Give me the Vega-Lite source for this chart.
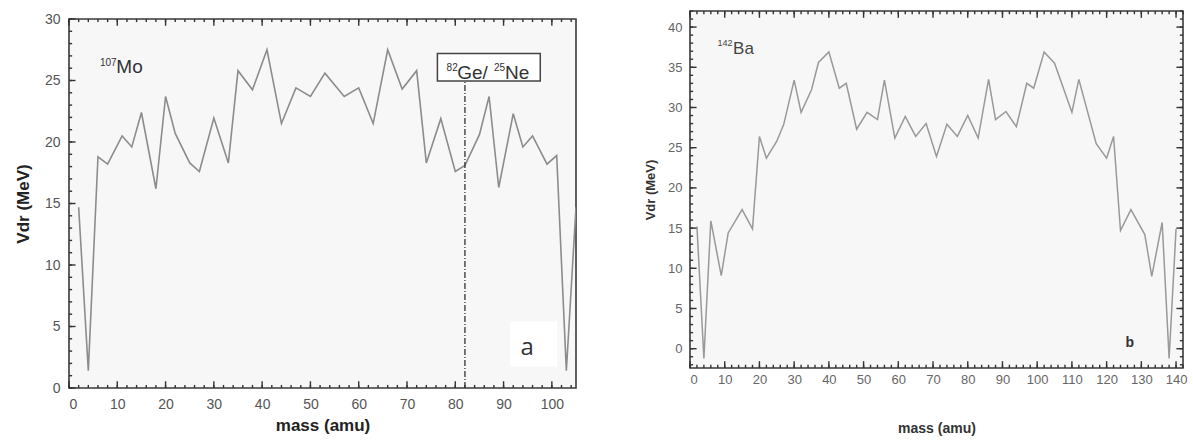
{
  "$schema": "https://vega.github.io/schema/vega-lite/v6.json",
  "background": "white",
  "padding": {"left": 13, "top": 5, "right": 0, "bottom": 0},
  "autosize": {"type": "pad"},
  "config": {
    "view": {"fill": "#f7f7f7", "stroke": "#3a3a3a", "strokeWidth": 1.6},
    "axis": {"domain": false, "grid": false, "ticks": false, "tickSize": 0, "labelFont": "Liberation Sans", "titleFont": "Liberation Sans", "labelColor": "#555555", "titleColor": "#222222"},
    "rule": {"color": "#333333", "strokeWidth": 1.4},
    "text": {"font": "Liberation Sans"}
  },
  "hconcat": [
    {
      "spacing": -6,
      "vconcat": [
        {
          "width": 1, "height": 1,
          "view": {"fill": null, "stroke": null},
          "data": {"values": [{}]},
          "mark": {"type": "text", "text": ""},
          "encoding": {}
        },
        {
          "width": 507, "height": 369,
          "resolve": {"axis": {"x": "independent", "y": "independent"}},
          "layer": [
            {
              "data": {"name": "mo"},
              "mark": {"type": "line", "color": "#8c8c8c", "strokeWidth": 1.6, "clip": true},
              "encoding": {
                "x": {"field": "mass", "type": "quantitative", "scale": {"domain": [0, 105], "nice": false, "zero": false},
                  "axis": {"orient": "bottom", "values": [0,10,20,30,40,50,60,70,80,90,100], "labelPadding": 9, "labelFontSize": 14, "title": "mass (amu)", "titleFontSize": 17, "titleFontWeight": "bold", "titlePadding": 6}},
                "y": {"field": "V", "type": "quantitative", "scale": {"domain": [0, 30], "nice": false, "zero": false},
                  "axis": {"orient": "left", "values": [0,5,10,15,20,25,30], "labelPadding": 9, "labelFontSize": 14, "title": "Vdr (MeV)", "titleFontSize": 17, "titleFontWeight": "bold", "titlePadding": 12}}
              }
            },
            {
              "data": {"name": "moX"},
              "mark": {"type": "rule"},
              "encoding": {
                "x": {"field": "v", "type": "quantitative", "scale": {"domain": [0, 105], "nice": false, "zero": false}, "axis": null},
                "y": {"datum": 0, "type": "quantitative", "axis": null},
                "y2": {"datum": 0.25}
              }
            },
            {
              "data": {"name": "moX"},
              "mark": {"type": "rule"},
              "encoding": {
                "x": {"field": "v", "type": "quantitative", "scale": {"domain": [0, 105], "nice": false, "zero": false}, "axis": null},
                "y": {"datum": 30, "type": "quantitative", "axis": null},
                "y2": {"datum": 29.75}
              }
            },
            {
              "data": {"name": "moX"},
              "transform": [{"filter": "datum.v % 10 === 0"}],
              "mark": {"type": "rule"},
              "encoding": {
                "x": {"field": "v", "type": "quantitative", "scale": {"domain": [0, 105], "nice": false, "zero": false}, "axis": null},
                "y": {"datum": 0, "type": "quantitative", "axis": null},
                "y2": {"datum": 0.55}
              }
            },
            {
              "data": {"name": "moX"},
              "transform": [{"filter": "datum.v % 10 === 0"}],
              "mark": {"type": "rule"},
              "encoding": {
                "x": {"field": "v", "type": "quantitative", "scale": {"domain": [0, 105], "nice": false, "zero": false}, "axis": null},
                "y": {"datum": 30, "type": "quantitative", "axis": null},
                "y2": {"datum": 29.45}
              }
            },
            {
              "data": {"name": "moY"},
              "mark": {"type": "rule"},
              "encoding": {
                "y": {"field": "v", "type": "quantitative", "scale": {"domain": [0, 30], "nice": false, "zero": false}, "axis": null},
                "x": {"datum": 0, "type": "quantitative", "axis": null},
                "x2": {"datum": 0.65}
              }
            },
            {
              "data": {"name": "moY"},
              "transform": [{"filter": "datum.v % 5 === 0"}],
              "mark": {"type": "rule"},
              "encoding": {
                "y": {"field": "v", "type": "quantitative", "scale": {"domain": [0, 30], "nice": false, "zero": false}, "axis": null},
                "x": {"datum": 0, "type": "quantitative", "axis": null},
                "x2": {"datum": 1.35}
              }
            },
            {
              "data": {"values": [{}]},
              "mark": {"type": "rule", "color": "#333333", "strokeWidth": 1.3, "strokeDash": [6, 2, 1, 2]},
              "encoding": {
                "x": {"datum": 82, "type": "quantitative", "axis": null},
                "y": {"datum": 0, "type": "quantitative", "axis": null},
                "y2": {"datum": 24.95}
              }
            },
            {
              "data": {"values": [{}]},
              "mark": {"type": "rect", "fill": "white", "stroke": "#444444", "strokeWidth": 1.5},
              "encoding": {
                "x": {"datum": 76.3, "type": "quantitative", "axis": null},
                "x2": {"datum": 97.6},
                "y": {"datum": 24.95, "type": "quantitative", "axis": null},
                "y2": {"datum": 27.2}
              }
            },
            {
              "data": {"values": [{}]},
              "mark": {"type": "text", "text": "82", "fontSize": 10, "color": "#333333", "align": "left", "baseline": "alphabetic"},
              "encoding": {
                "x": {"datum": 78.2, "type": "quantitative", "axis": null},
                "y": {"datum": 25.8, "type": "quantitative", "axis": null}
              }
            },
            {
              "data": {"values": [{}]},
              "mark": {"type": "text", "text": "Ge/", "fontSize": 19, "color": "#333333", "align": "left", "baseline": "alphabetic"},
              "encoding": {
                "x": {"datum": 80.4, "type": "quantitative", "axis": null},
                "y": {"datum": 25.15, "type": "quantitative", "axis": null}
              }
            },
            {
              "data": {"values": [{}]},
              "mark": {"type": "text", "text": "25", "fontSize": 10, "color": "#333333", "align": "left", "baseline": "alphabetic"},
              "encoding": {
                "x": {"datum": 88.0, "type": "quantitative", "axis": null},
                "y": {"datum": 25.8, "type": "quantitative", "axis": null}
              }
            },
            {
              "data": {"values": [{}]},
              "mark": {"type": "text", "text": "Ne", "fontSize": 19, "color": "#333333", "align": "left", "baseline": "alphabetic"},
              "encoding": {
                "x": {"datum": 90.3, "type": "quantitative", "axis": null},
                "y": {"datum": 25.15, "type": "quantitative", "axis": null}
              }
            },
            {
              "data": {"values": [{}]},
              "mark": {"type": "text", "text": "107", "fontSize": 10, "color": "#333333", "align": "left", "baseline": "alphabetic"},
              "encoding": {
                "x": {"datum": 6.4, "type": "quantitative", "axis": null},
                "y": {"datum": 26.2, "type": "quantitative", "axis": null}
              }
            },
            {
              "data": {"values": [{}]},
              "mark": {"type": "text", "text": "Mo", "fontSize": 19, "color": "#333333", "align": "left", "baseline": "alphabetic"},
              "encoding": {
                "x": {"datum": 9.8, "type": "quantitative", "axis": null},
                "y": {"datum": 25.65, "type": "quantitative", "axis": null}
              }
            },
            {
              "data": {"values": [{}]},
              "mark": {"type": "rect", "fill": "white", "stroke": null},
              "encoding": {
                "x": {"datum": 91.4, "type": "quantitative", "axis": null},
                "x2": {"datum": 101.1},
                "y": {"datum": 1.75, "type": "quantitative", "axis": null},
                "y2": {"datum": 5.4}
              }
            },
            {
              "data": {"values": [{}]},
              "mark": {"type": "text", "text": "a", "fontSize": 24, "font": "Open Sans", "color": "#333333", "align": "center", "baseline": "alphabetic"},
              "encoding": {
                "x": {"datum": 94.9, "type": "quantitative", "axis": null},
                "y": {"datum": 2.7, "type": "quantitative", "axis": null}
              }
            }
          ]
        }
      ]
    },
    {
      "width": 493, "height": 357,
      "resolve": {"axis": {"x": "independent", "y": "independent"}},
      "layer": [
        {
          "data": {"name": "ba"},
          "mark": {"type": "line", "color": "#999999", "strokeWidth": 1.5, "clip": true},
          "encoding": {
            "x": {"field": "mass", "type": "quantitative", "scale": {"domain": [0, 142], "nice": false, "zero": false},
              "axis": {"orient": "bottom", "values": [0,10,20,30,40,50,60,70,80,90,100,110,120,130,140], "labelPadding": 5, "labelFontSize": 13, "labelColor": "#666666", "title": "mass (amu)", "titleFontSize": 14, "titleFontWeight": "bold", "titleColor": "#333333", "titlePadding": 35}},
            "y": {"field": "V", "type": "quantitative", "scale": {"domain": [-2.4, 42], "nice": false, "zero": false},
              "axis": {"orient": "left", "values": [0,5,10,15,20,25,30,35,40], "labelPadding": 8, "labelFontSize": 13, "labelColor": "#666666", "title": "Vdr (MeV)", "titleFontSize": 13, "titleFontWeight": "bold", "titleColor": "#333333", "titlePadding": 10}}
          }
        },
        {
          "data": {"name": "baX"},
          "mark": {"type": "rule"},
          "encoding": {
            "x": {"field": "v", "type": "quantitative", "scale": {"domain": [0, 142], "nice": false, "zero": false}, "axis": null},
            "y": {"datum": -2.4, "type": "quantitative", "axis": null},
            "y2": {"datum": -2.0}
          }
        },
        {
          "data": {"name": "baX"},
          "mark": {"type": "rule"},
          "encoding": {
            "x": {"field": "v", "type": "quantitative", "scale": {"domain": [0, 142], "nice": false, "zero": false}, "axis": null},
            "y": {"datum": 42, "type": "quantitative", "axis": null},
            "y2": {"datum": 41.6}
          }
        },
        {
          "data": {"name": "baX"},
          "transform": [{"filter": "datum.v % 10 === 0"}],
          "mark": {"type": "rule"},
          "encoding": {
            "x": {"field": "v", "type": "quantitative", "scale": {"domain": [0, 142], "nice": false, "zero": false}, "axis": null},
            "y": {"datum": -2.4, "type": "quantitative", "axis": null},
            "y2": {"datum": -1.55}
          }
        },
        {
          "data": {"name": "baX"},
          "transform": [{"filter": "datum.v % 10 === 0"}],
          "mark": {"type": "rule"},
          "encoding": {
            "x": {"field": "v", "type": "quantitative", "scale": {"domain": [0, 142], "nice": false, "zero": false}, "axis": null},
            "y": {"datum": 42, "type": "quantitative", "axis": null},
            "y2": {"datum": 41.15}
          }
        },
        {
          "data": {"name": "baY"},
          "mark": {"type": "rule"},
          "encoding": {
            "y": {"field": "v", "type": "quantitative", "scale": {"domain": [-2.4, 42], "nice": false, "zero": false}, "axis": null},
            "x": {"datum": 0, "type": "quantitative", "axis": null},
            "x2": {"datum": 0.9}
          }
        },
        {
          "data": {"name": "baY"},
          "mark": {"type": "rule"},
          "encoding": {
            "y": {"field": "v", "type": "quantitative", "scale": {"domain": [-2.4, 42], "nice": false, "zero": false}, "axis": null},
            "x": {"datum": 142, "type": "quantitative", "axis": null},
            "x2": {"datum": 141.1}
          }
        },
        {
          "data": {"name": "baY"},
          "transform": [{"filter": "datum.v % 5 === 0"}],
          "mark": {"type": "rule"},
          "encoding": {
            "y": {"field": "v", "type": "quantitative", "scale": {"domain": [-2.4, 42], "nice": false, "zero": false}, "axis": null},
            "x": {"datum": 0, "type": "quantitative", "axis": null},
            "x2": {"datum": 1.9}
          }
        },
        {
          "data": {"name": "baY"},
          "transform": [{"filter": "datum.v % 5 === 0"}],
          "mark": {"type": "rule"},
          "encoding": {
            "y": {"field": "v", "type": "quantitative", "scale": {"domain": [-2.4, 42], "nice": false, "zero": false}, "axis": null},
            "x": {"datum": 142, "type": "quantitative", "axis": null},
            "x2": {"datum": 140.1}
          }
        },
        {
          "data": {"values": [{}]},
          "mark": {"type": "text", "text": "142", "fontSize": 9, "color": "#444444", "align": "left", "baseline": "alphabetic"},
          "encoding": {
            "x": {"datum": 7.9, "type": "quantitative", "axis": null},
            "y": {"datum": 37.7, "type": "quantitative", "axis": null}
          }
        },
        {
          "data": {"values": [{}]},
          "mark": {"type": "text", "text": "Ba", "fontSize": 17, "color": "#444444", "align": "left", "baseline": "alphabetic"},
          "encoding": {
            "x": {"datum": 12.4, "type": "quantitative", "axis": null},
            "y": {"datum": 36.7, "type": "quantitative", "axis": null}
          }
        },
        {
          "data": {"values": [{}]},
          "mark": {"type": "text", "text": "b", "fontSize": 14, "fontWeight": "bold", "color": "#333333", "align": "center", "baseline": "alphabetic"},
          "encoding": {
            "x": {"datum": 126.7, "type": "quantitative", "axis": null},
            "y": {"datum": 0.2, "type": "quantitative", "axis": null}
          }
        }
      ]
    }
  ],
  "spacing": 66,
  "datasets": {
    "moX": [{"v":0},{"v":2},{"v":4},{"v":6},{"v":8},{"v":10},{"v":12},{"v":14},{"v":16},{"v":18},{"v":20},{"v":22},{"v":24},{"v":26},{"v":28},{"v":30},{"v":32},{"v":34},{"v":36},{"v":38},{"v":40},{"v":42},{"v":44},{"v":46},{"v":48},{"v":50},{"v":52},{"v":54},{"v":56},{"v":58},{"v":60},{"v":62},{"v":64},{"v":66},{"v":68},{"v":70},{"v":72},{"v":74},{"v":76},{"v":78},{"v":80},{"v":82},{"v":84},{"v":86},{"v":88},{"v":90},{"v":92},{"v":94},{"v":96},{"v":98},{"v":100},{"v":102},{"v":104}],
    "moY": [{"v":0},{"v":1},{"v":2},{"v":3},{"v":4},{"v":5},{"v":6},{"v":7},{"v":8},{"v":9},{"v":10},{"v":11},{"v":12},{"v":13},{"v":14},{"v":15},{"v":16},{"v":17},{"v":18},{"v":19},{"v":20},{"v":21},{"v":22},{"v":23},{"v":24},{"v":25},{"v":26},{"v":27},{"v":28},{"v":29},{"v":30}],
    "baX": [{"v":0},{"v":2},{"v":4},{"v":6},{"v":8},{"v":10},{"v":12},{"v":14},{"v":16},{"v":18},{"v":20},{"v":22},{"v":24},{"v":26},{"v":28},{"v":30},{"v":32},{"v":34},{"v":36},{"v":38},{"v":40},{"v":42},{"v":44},{"v":46},{"v":48},{"v":50},{"v":52},{"v":54},{"v":56},{"v":58},{"v":60},{"v":62},{"v":64},{"v":66},{"v":68},{"v":70},{"v":72},{"v":74},{"v":76},{"v":78},{"v":80},{"v":82},{"v":84},{"v":86},{"v":88},{"v":90},{"v":92},{"v":94},{"v":96},{"v":98},{"v":100},{"v":102},{"v":104},{"v":106},{"v":108},{"v":110},{"v":112},{"v":114},{"v":116},{"v":118},{"v":120},{"v":122},{"v":124},{"v":126},{"v":128},{"v":130},{"v":132},{"v":134},{"v":136},{"v":138},{"v":140},{"v":142}],
    "baY": [{"v":-2},{"v":-1},{"v":0},{"v":1},{"v":2},{"v":3},{"v":4},{"v":5},{"v":6},{"v":7},{"v":8},{"v":9},{"v":10},{"v":11},{"v":12},{"v":13},{"v":14},{"v":15},{"v":16},{"v":17},{"v":18},{"v":19},{"v":20},{"v":21},{"v":22},{"v":23},{"v":24},{"v":25},{"v":26},{"v":27},{"v":28},{"v":29},{"v":30},{"v":31},{"v":32},{"v":33},{"v":34},{"v":35},{"v":36},{"v":37},{"v":38},{"v":39},{"v":40},{"v":41},{"v":42}],
    "mo": [
      {"mass": 2, "V": 14.7}, {"mass": 4, "V": 1.4}, {"mass": 6, "V": 18.8}, {"mass": 8, "V": 18.2},
      {"mass": 11, "V": 20.5}, {"mass": 13, "V": 19.6}, {"mass": 15, "V": 22.4}, {"mass": 18, "V": 16.2},
      {"mass": 20, "V": 23.7}, {"mass": 22, "V": 20.7}, {"mass": 25, "V": 18.3}, {"mass": 27, "V": 17.6},
      {"mass": 30, "V": 21.95}, {"mass": 33, "V": 18.3}, {"mass": 35, "V": 25.8}, {"mass": 38, "V": 24.25},
      {"mass": 41, "V": 27.5}, {"mass": 44, "V": 21.5}, {"mass": 47, "V": 24.4}, {"mass": 50, "V": 23.7},
      {"mass": 53, "V": 25.6}, {"mass": 57, "V": 23.7}, {"mass": 60, "V": 24.4}, {"mass": 63, "V": 21.5},
      {"mass": 66, "V": 27.5}, {"mass": 69, "V": 24.3}, {"mass": 72, "V": 25.8}, {"mass": 74, "V": 18.3},
      {"mass": 77, "V": 21.9}, {"mass": 80, "V": 17.6}, {"mass": 82, "V": 18.1}, {"mass": 85, "V": 20.6},
      {"mass": 87, "V": 23.7}, {"mass": 89, "V": 16.3}, {"mass": 92, "V": 22.3}, {"mass": 94, "V": 19.6},
      {"mass": 96, "V": 20.5}, {"mass": 99, "V": 18.2}, {"mass": 101, "V": 18.9}, {"mass": 103, "V": 1.4},
      {"mass": 105, "V": 14.7}
    ],
    "ba": [
      {"mass": 2, "V": 15.2}, {"mass": 4, "V": -1.2}, {"mass": 6, "V": 15.9}, {"mass": 9, "V": 9.1},
      {"mass": 11, "V": 14.4}, {"mass": 15, "V": 17.3}, {"mass": 18, "V": 14.9}, {"mass": 20, "V": 26.4},
      {"mass": 22, "V": 23.7}, {"mass": 25, "V": 25.8}, {"mass": 27, "V": 27.9}, {"mass": 30, "V": 33.4},
      {"mass": 32, "V": 29.4}, {"mass": 35, "V": 32.2}, {"mass": 37, "V": 35.6}, {"mass": 40, "V": 36.9},
      {"mass": 43, "V": 32.4}, {"mass": 45, "V": 33.0}, {"mass": 48, "V": 27.3}, {"mass": 51, "V": 29.4},
      {"mass": 54, "V": 28.5}, {"mass": 56, "V": 33.4}, {"mass": 59, "V": 26.2}, {"mass": 62, "V": 28.9},
      {"mass": 65, "V": 26.4}, {"mass": 68, "V": 28.0}, {"mass": 71, "V": 23.9}, {"mass": 74, "V": 27.9},
      {"mass": 77, "V": 26.4}, {"mass": 80, "V": 29.0}, {"mass": 83, "V": 26.2}, {"mass": 86, "V": 33.5},
      {"mass": 88, "V": 28.5}, {"mass": 91, "V": 29.5}, {"mass": 94, "V": 27.6}, {"mass": 97, "V": 33.0},
      {"mass": 99, "V": 32.4}, {"mass": 102, "V": 36.9}, {"mass": 105, "V": 35.5}, {"mass": 110, "V": 29.4},
      {"mass": 112, "V": 33.5}, {"mass": 117, "V": 25.5}, {"mass": 120, "V": 23.7}, {"mass": 122, "V": 26.4},
      {"mass": 124, "V": 14.7}, {"mass": 127, "V": 17.3}, {"mass": 131, "V": 14.2}, {"mass": 133, "V": 9.0},
      {"mass": 136, "V": 15.7}, {"mass": 138, "V": -1.2}, {"mass": 140, "V": 14.9}
    ]
  }
}
